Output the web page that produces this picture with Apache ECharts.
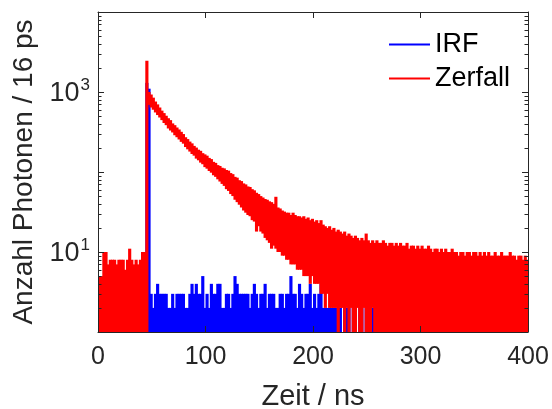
<!DOCTYPE html>
<html>
<head>
<meta charset="utf-8">
<script src="https://cdn.jsdelivr.net/npm/echarts@6/dist/echarts.min.js"></script>
<style>
html,body{margin:0;padding:0;background:#fff;}
#chart{width:552px;height:409px;}
</style>
</head>
<body>
<div id="chart"></div>
<script>
// Time bins (ns), each bin starts at index * binNs
const binNs = 2;

// Zerfall (decay): upper and lower edge of the noisy trace per 2-ns bin (counts / 16 ps)
const zerfallHi = [
  5,5,10,10,7,8,8,8,7,8,8,8,6,8,11,8,7,8,7,8,10,10,
  2450,
  1000,930,850,760,700,640,585,545,505,470,445,405,385,360,340,318,298,272,258,240,228,212,202,190,184,172,166,160,150,145,134,130,122,119,113,111,106,104,97,94,87,85,79,77,72,70,66,65,61,59,55,53,50,48,46,45,43,42,40,49,36,35,33,32,31,31,29,31,29,28,28,27,28,26,27,25,26,24,25,23,25,22,21,20,21,19,20,18,19,18,17,18,16,17,16,15,16,15,14,15,14,17,14,13,14,13,14,13,13,14,13,12,13,13,12,13,12,13,12,12,13,11,12,12,11,12,11,12,11,11,12,11,10,11,11,10,11,10,11,10,10,11,10,10,9,10,10,9,10,10,9,10,10,9,10,9,10,9,10,9,9,10,9,9,10,9,9,9,10,9,9,8,9,9,8,9,8
];
const zerfallLo = [
  1,1,1,1,1,1,1,1,1,1,1,1,1,1,1,1,1,1,1,1,1,1,
  1,
  690,640,600,555,515,480,445,410,385,350,330,312,288,272,255,238,226,205,192,180,168,160,147,140,131,125,115,110,103,98,91,87,81,76,71,67,61,58,53,50,45,42,39,36,33,31,29,28,25,24,18,21,18,17,15,14,13,11,12,11,10,10,9,9,8,8,7,7,7,6,6,6,5,5,5,4,5,4,4,4,3,3,2,3,2,2,2,2,1,2,2,1,2,1,2,1,1,2,1,1,2,1,1,1,2,1,
  1,1,1,1,1,1,1,1,1,1,1,1,1,1,1,1,1,1,1,1,1,1,1,1,1,1,1,1,1,1,1,1,1,1,1,1,1,1,1,1,1,1,1,1,1,1,1,1,1,1,1,1,1,1,1,1,1,1,1,1,1,1,1,1,1,1,1,1,1,1,1
];
// IRF: upper edge per 2-ns bin (lower edge at the axis floor); 1 = nothing visible
const irfHi = [
  1,1,1,1,1,1,1,1,1,1,1,1,1,1,1,1,1,1,1,1,1,1,
  1300,1100,
  3,2,3,4,3,3,3,3,2,2,3,2,3,3,3,3,2,2,3,4,3,4,3,3,5,2,3,2,4,3,3,4,4,2,2,3,3,2,3,5,4,3,3,3,3,3,2,3,4,3,2,3,3,4,2,3,3,3,2,2,3,3,2,3,3,5,3,3,2,4,3,2,3,3,4,2,3,2,3,4,
  2,2,2,2,2,2,2,2,2,1,2,2,2,1,2,2,1,2,2,1,2,2,2,2,2,
  1,1,1,1,1,1,1,1,1,1,1,1,1,1,1,1,1,1,1,1,1,1,1,1,1,1,1,1,1,1,1,1,1,1,1,1,1,1,1,1,1,1,1,1,1,1,1,1,1,1,1,1,1,1,1,1,1,1,1,1,1,1,1,1,1,1,1,1,1,1,1
];
// Axis settings
const xTicks = [0, 100, 200, 300, 400];
const yMin = 1, yMax = 10000;
const yLabelExponents = [1, 3];
const minorTickValues = [2,3,4,5,6,7,8,9,20,30,40,50,60,70,80,90,200,300,400,500,600,700,800,900,2000,3000,4000,5000,6000,7000,8000,9000];

const FONT = "'Liberation Sans', Arial, Helvetica, sans-serif";
const AX = '#262626';

function bandData(hi, lo) {
  return hi.map((h, i) => [i * binNs, lo ? lo[i] : 1, h]);
}
function bandRenderer(color) {
  return function (params, api) {
    const t = api.value(0), lo = api.value(1), hi = api.value(2);
    if (!(hi > lo)) return;
    const p1 = api.coord([t, hi]);
    const p2 = api.coord([t + binNs, lo]);
    return {
      type: 'rect',
      shape: { x: p1[0], y: p1[1], width: p2[0] - p1[0] + 1, height: p2[1] - p1[1] },
      style: { fill: color }
    };
  };
}

const chart = echarts.init(document.getElementById('chart'), null, { renderer: 'canvas' });
const axisLine = { show: true, onZero: false, lineStyle: { color: AX, width: 1 } };
const option = {
  animation: false,
  backgroundColor: '#fff',
  grid: { left: 98, top: 12, right: 24, bottom: 77, containLabel: false, outerBoundsMode: 'none' },
  legend: {
    orient: 'vertical', left: 389, top: 31, itemWidth: 41, itemHeight: 2, itemGap: 7,
    selectedMode: false, padding: 0,
    textStyle: { fontFamily: FONT, fontSize: 27, color: '#000' },
    data: [{ name: 'IRF', icon: 'rect' }, { name: 'Zerfall', icon: 'rect' }]
  },
  xAxis: [{
    type: 'value', min: xTicks[0], max: xTicks[xTicks.length - 1], interval: 100, z: 10,
    position: 'bottom',
    axisLine: axisLine,
    axisTick: { show: true, inside: true, length: 6, lineStyle: { color: AX } },
    axisLabel: { show: true, margin: 13, fontFamily: FONT, fontSize: 25, color: AX },
    splitLine: { show: false },
    name: 'Zeit / ns', nameLocation: 'middle', nameGap: 50,
    nameTextStyle: { fontFamily: FONT, fontSize: 29, color: AX }
  }, {
    type: 'value', min: xTicks[0], max: xTicks[xTicks.length - 1], interval: 100, z: 10,
    position: 'top',
    axisLine: axisLine,
    axisTick: { show: true, inside: true, length: 6, lineStyle: { color: AX } },
    axisLabel: { show: false }, splitLine: { show: false }
  }],
  yAxis: [{
    type: 'log', logBase: 10, min: yMin, max: yMax, z: 10,
    position: 'left',
    axisLine: axisLine,
    axisTick: { show: true, inside: true, length: 6, lineStyle: { color: AX } },
    axisLabel: {
      show: true, margin: 8, color: AX, fontFamily: FONT,
      formatter: function (v) {
        const e = Math.round(Math.log10(v));
        if (yLabelExponents.indexOf(e) >= 0 && Math.abs(v - Math.pow(10, e)) < 1e-6 * v) {
          return '{b|10}{s|' + e + '}';
        }
        return '';
      },
      rich: {
        b: { fontFamily: FONT, fontSize: 27, color: AX, lineHeight: 30, verticalAlign: 'bottom', padding: [0, 0, 0, 0] },
        s: { fontFamily: FONT, fontSize: 17, color: AX, lineHeight: 30, verticalAlign: 'top', padding: [0, 0, 6, 1] }
      }
    },
    splitLine: { show: false },
    name: 'Anzahl Photonen / 16 ps', nameLocation: 'middle', nameGap: 57, nameRotate: 90,
    nameTextStyle: { fontFamily: FONT, fontSize: 28, color: AX }
  }, {
    type: 'log', logBase: 10, min: yMin, max: yMax, z: 10,
    position: 'right',
    axisLine: axisLine,
    axisTick: { show: true, inside: true, length: 6, lineStyle: { color: AX } },
    axisLabel: { show: false }, splitLine: { show: false }
  }],
  series: [{
    name: 'IRF', type: 'custom', coordinateSystem: 'cartesian2d', clip: true,
    xAxisIndex: 0, yAxisIndex: 0,
    itemStyle: { color: '#0000FF' },
    encode: { x: 0, y: [1, 2] },
    renderItem: bandRenderer('#0000FF'),
    data: bandData(irfHi, null), z: 2, silent: true
  }, {
    name: 'Zerfall', type: 'custom', coordinateSystem: 'cartesian2d', clip: true,
    xAxisIndex: 0, yAxisIndex: 0,
    itemStyle: { color: '#FF0000' },
    encode: { x: 0, y: [1, 2] },
    renderItem: bandRenderer('#FF0000'),
    data: bandData(zerfallHi, zerfallLo), z: 3, silent: true
  }, {
    name: 'minorTicks', type: 'custom', coordinateSystem: 'cartesian2d',
    xAxisIndex: 0, yAxisIndex: 0, z: 12, silent: true,
    encode: { x: 0, y: 1 },
    renderItem: function (params, api) {
      const cs = params.coordSys;
      const p = api.coord([0, api.value(1)]);
      const y = Math.round(p[1]) + 0.5;
      return {
        type: 'group', children: [
          { type: 'line', shape: { x1: cs.x, y1: y, x2: cs.x + 3.5, y2: y }, style: { stroke: AX, lineWidth: 1 } },
          { type: 'line', shape: { x1: cs.x + cs.width - 3.5, y1: y, x2: cs.x + cs.width, y2: y }, style: { stroke: AX, lineWidth: 1 } }
        ]
      };
    },
    data: minorTickValues.map(v => [0, v])
  }]
};
chart.setOption(option);
</script>
</body>
</html>
